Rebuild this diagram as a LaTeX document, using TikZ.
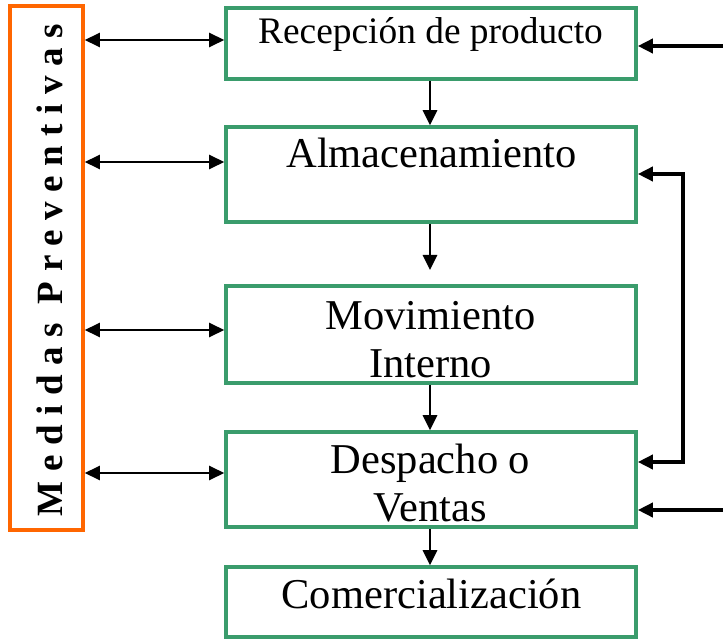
\documentclass[tikz,border=0pt]{standalone}
\usepackage{fontspec}
\setmainfont{Liberation Serif}
\usetikzlibrary{arrows.meta}
\definecolor{boxgreen}{RGB}{58,156,108}
\definecolor{medorange}{RGB}{255,102,0}
\begin{document}
\begin{tikzpicture}[x=1pt,y=-1pt,
  gbox/.style={draw=boxgreen,line width=3.6pt,inner sep=0pt,minimum width=410pt},
  obox/.style={draw=medorange,line width=3.6pt,inner sep=0pt},
  txt/.style={inner sep=0pt,anchor=base,align=center},
  tip/.style={-{Triangle[length=15pt,width=14pt]}},
  larr/.style={{Triangle[length=15pt,width=14pt]}-{Triangle[length=15pt,width=14pt]},line width=2.5pt},
  darr/.style={tip,line width=2.8pt},
  rarr/.style={tip,line width=3.6pt},
  farr/.style={{Triangle[length=15pt,width=14pt]}-{Triangle[length=15pt,width=14pt]},line width=3.6pt}
]
\useasboundingbox (0,0) rectangle (723,639);

% boxes
\node[obox,minimum width=73pt,minimum height=524pt] (med) at (46.5,268) {};
\node[gbox,minimum height=71pt] (b1) at (431,43.5) {};
\node[gbox,minimum height=95pt] (b2) at (431,174.5) {};
\node[gbox,minimum height=97pt] (b3) at (431,334.5) {};
\node[gbox,minimum height=95pt] (b4) at (431,479.5) {};
\node[gbox,minimum height=70pt] (b5) at (431,602) {};

% texts
\node[txt,font=\fontsize{37.4}{40}\selectfont] (t1) at (430.5,44) {Recepción de producto};
\node[txt,font=\fontsize{42.5}{48}\selectfont] (t2) at (431.5,168) {Almacenamiento};
\node[txt,font=\fontsize{42.5}{48}\selectfont] (t3a) at (430.5,329) {Movimiento};
\node[txt,font=\fontsize{42.5}{48}\selectfont] (t3b) at (430.5,377) {Interno};
\node[txt,font=\fontsize{42.5}{48}\selectfont] (t4a) at (430.5,473) {Despacho o};
\node[txt,font=\fontsize{42.5}{48}\selectfont] (t4b) at (430.5,521) {Ventas};
\node[txt,font=\fontsize{42.5}{48}\selectfont] (t5) at (431.5,608) {Comercialización};
\node[inner sep=0pt,anchor=base,rotate=90,
      font=\bfseries\fontsize{37}{40}\selectfont\addfontfeature{LetterSpace=26}] (mt) at (62.5,270) {Medidas Preventivas};

% level coordinates
\coordinate (y1) at (0,40);
\coordinate (y2) at (0,162);
\coordinate (y3) at (0,330);
\coordinate (y4) at (0,473);
\coordinate (r1) at (723,46);
\coordinate (r4) at (723,510);
\coordinate (f1) at (683,174);
\coordinate (f2) at (683,462);
\coordinate (a2) at (430,270);

% left double arrows
\draw[larr] (med.east |- y1) -- (b1.west |- y1);
\draw[larr] (med.east |- y2) -- (b2.west |- y2);
\draw[larr] (med.east |- y3) -- (b3.west |- y3);
\draw[larr] (med.east |- y4) -- (b4.west |- y4);

% down arrows
\draw[darr] (b1.south -| a2) -- (b2.north -| a2);
\draw[darr] (b2.south -| a2) -- (a2);
\draw[darr] (b3.south -| a2) -- (b4.north -| a2);
\draw[darr] (b4.south -| a2) -- (b5.north -| a2);

% right arrows
\draw[rarr] (r1) -- (b1.east |- r1);
\draw[rarr] (r4) -- (b4.east |- r4);
\draw[farr] (b2.east |- f1) -- (f1) -- (f2) -- (b4.east |- f2);
\end{tikzpicture}
\end{document}
